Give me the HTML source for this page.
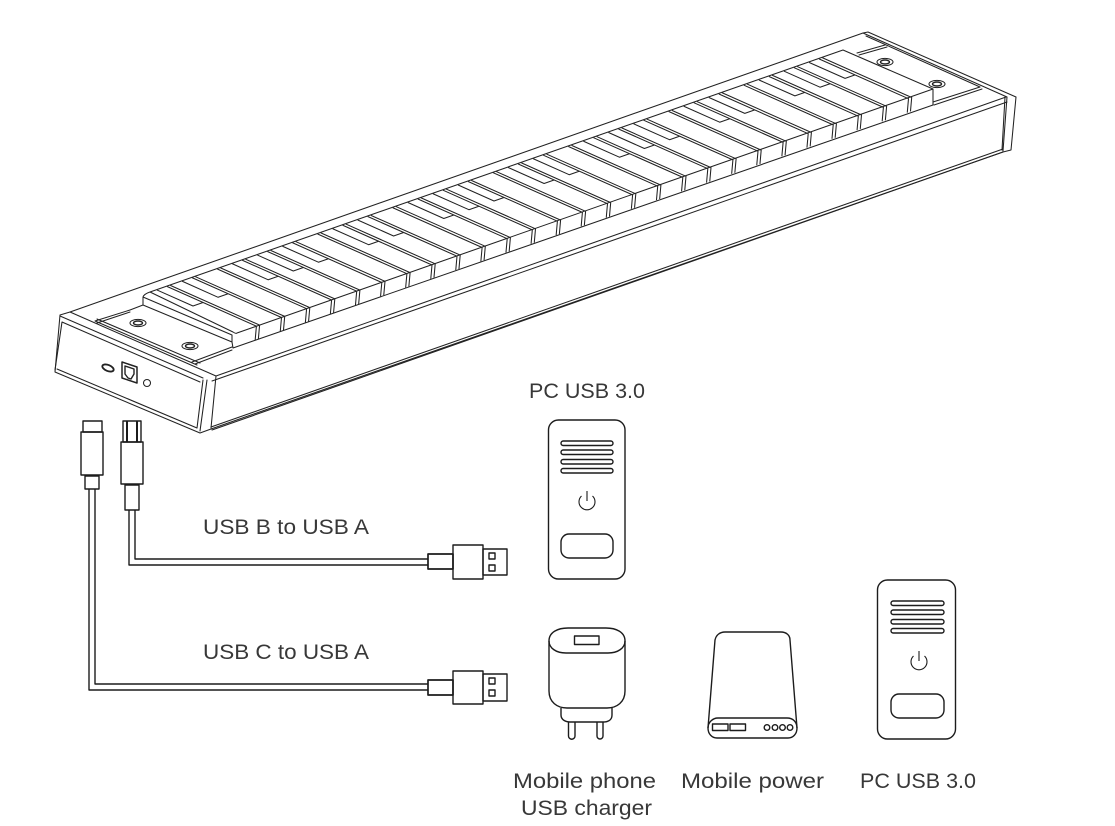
<!DOCTYPE html>
<html lang="en"><head><meta charset="utf-8"><title>Keyboard connections</title>
<style>html,body{margin:0;padding:0;background:#fff}svg{display:block}text{font-family:"Liberation Sans",sans-serif;font-size:21px;fill:#383838}</style>
</head><body>
<svg xmlns="http://www.w3.org/2000/svg" width="1115" height="826" viewBox="0 0 1115 826">
<g id="kb" fill="none" stroke="#222" stroke-width="1.05" stroke-linejoin="round" stroke-linecap="round">
<!-- body -->
<path d="M70 312L863 33L868 32L1016 97L1011 150L1003 152L211 429L200 433L55 372L60 315L70 312"/>
<path d="M60 316L203 378M62 322L200 382M70 312L216 376M57 369L197 428M62 322L55 370"/>
<path d="M203 380L197 428M207 380L200 431M216 376L211 428"/>
<path d="M216 376L1006 97M212 381L1007 102M211 427L1003 149M212 430L1003 152"/>
<path d="M863 33L1007 97M866 36L980 87M1005 97L1002 150M1007 97L1003 151"/>
<path d="M95 321L197 365M97 319L200 363M192 362L232 347M195 364L232 350M130 310L143 305M95 321L130 310M97 323L130 312"/>
<path d="M857 53L885 45M859 55L887 47M933 102L980 87M934 105L982 89"/>
<!-- ports -->
<ellipse cx="108" cy="368" rx="6" ry="3" transform="rotate(22 108 368)" stroke-width="1.8"/>
<path d="M122 362L137 367L137 383L122 378Z" stroke-width="1.5"/>
<path d="M125 366L134 369L134 374L131 379L128 378L125 374Z" stroke-width="1.4"/>
<circle cx="147" cy="383" r="3.5"/>
<!-- screws -->
<ellipse cx="138" cy="323" rx="8" ry="3.6"/><ellipse cx="138" cy="323" rx="4.5" ry="2" stroke-width="1.4"/>
<ellipse cx="190" cy="346" rx="8" ry="3.6"/><ellipse cx="190" cy="346" rx="4.5" ry="2" stroke-width="1.4"/>
<ellipse cx="885" cy="62" rx="8" ry="3.6"/><ellipse cx="885" cy="62" rx="4.5" ry="2" stroke-width="1.4"/>
<ellipse cx="937" cy="84" rx="8" ry="3.6"/><ellipse cx="937" cy="84" rx="4.5" ry="2" stroke-width="1.4"/>
<!-- key block outline -->
<path d="M150 292L843 50L933 89L933 105L233 348L232 342L143 305L143 297Q144 294 150 292L233 332Q236 334 237 333L933 89M143 297L232 335L232 342"/>
</g>
<script>
(function(){
var g=document.getElementById('kb'),d='',black=[0,1,3,4,5,7,8,10,11,12,14,15,17,18,19,21,22,24,25,26];
function P(n){return n[0].toFixed(1)+' '+n[1].toFixed(1)}
for(var k=0;k<=26;k++){
 var x=258+25.08*k,y=333-(x-237)*0.349,vx=-89,vy=-39.6;
 [-1.6,1.6].forEach(function(o){
  var fx=x+o,fy=y-o*0.349;
  d+='M'+P([fx,fy])+'L'+P([fx-1.2,fy+13.5]);
  d+='M'+P([fx,fy])+'L'+P([fx+vx,fy+vy]);
 });
 if(black.indexOf(k)>=0){
  var a=[x-1.6+vx*0.6,y+.6+vy*0.6],b=[a[0]-10,a[1]+3.5];
  d+='M'+P(a)+'L'+P(b)+'L'+P([b[0]+vx*0.4,b[1]+vy*0.4]);
 }
}
var p=document.createElementNS('http://www.w3.org/2000/svg','path');
p.setAttribute('d',d);g.appendChild(p);
})();
</script>
<g fill="none" stroke="#1c1c1c" stroke-width="1.4" stroke-linejoin="round">
<!-- USB-C connector and cable -->
<rect x="83" y="421" width="19" height="11"/><rect x="81" y="432" width="22" height="43"/><rect x="85" y="476" width="14" height="13"/>
<path d="M89 489V690H428M95 489V684H428"/>
<!-- USB-B connector and cable -->
<rect x="123" y="421" width="18" height="21"/><path d="M127 421V442M137 421V442" stroke-width="2"/>
<rect x="121" y="442" width="22" height="42"/><rect x="125" y="485" width="14" height="25"/>
<path d="M129 510V565H428M135 510V559H428"/>
<!-- USB-A plugs -->
<rect x="428" y="554" width="25" height="15" stroke-width="1.7"/><rect x="453" y="545" width="30" height="34"/><rect x="483" y="549" width="24" height="26"/>
<rect x="489" y="553" width="6" height="6"/><rect x="489" y="565" width="6" height="6"/>
<rect x="428" y="680" width="25" height="15" stroke-width="1.7"/><rect x="453" y="671" width="30" height="33"/><rect x="483" y="674" width="24" height="27"/>
<rect x="489" y="678" width="6" height="6"/><rect x="489" y="690" width="6" height="6"/>
<!-- PC tower 1 -->
<rect x="548.500" y="420" width="76.500" height="159" rx="10"/>
<rect x="561" y="441" width="52" height="4.500" rx="2.200"/><rect x="561" y="450" width="52" height="4.500" rx="2.200"/><rect x="561" y="459.500" width="52" height="4.500" rx="2.200"/><rect x="561" y="468.500" width="52" height="4.500" rx="2.200"/>
<path d="M581.500 496A8 8 0 1 0 592.500 496M587 491V501" stroke-width="1.1"/>
<rect x="561" y="534" width="52" height="24" rx="8"/>
<!-- PC tower 2 -->
<rect x="877.500" y="580" width="78" height="159" rx="10"/>
<rect x="891" y="601" width="53" height="4.500" rx="2.200"/><rect x="891" y="610" width="53" height="4.500" rx="2.200"/><rect x="891" y="619.500" width="53" height="4.500" rx="2.200"/><rect x="891" y="628.500" width="53" height="4.500" rx="2.200"/>
<path d="M913.500 656A8 8 0 1 0 924.500 656M919 651V661" stroke-width="1.1"/>
<rect x="891" y="694" width="53" height="24" rx="8"/>
<!-- Charger -->
<path d="M549 641C549 632 558 628 568 628H606C616 628 625 632 625 641V691C625 702 617 708 607 708H567C557 708 549 702 549 691Z"/>
<path d="M549 641C549 648 556 653 566 653H608C618 653 625 648 625 641"/>
<rect x="574.500" y="636" width="24.500" height="8.500"/>
<path d="M561 708V715C561 720 566 722 570 722H603C608 722 612 720 612 715V708"/>
<path d="M568.500 722V736A3 3 0 0 0 575 736V722M597 722V736A3 3 0 0 0 603 736V722"/>
<!-- Power bank -->
<path d="M715 640C716 635 720 632 725 632H781C786 632 790 635 790 640L797 728C797 734 793 738 788 738H717C712 738 708 734 708 728Z"/>
<path d="M708 728C708 722 713 718 718 718H787C793 718 797 722 797 728"/>
<rect x="712.500" y="724" width="15.500" height="6.500"/><rect x="730" y="724" width="15.500" height="6.500"/>
<circle cx="767" cy="727.500" r="2.800"/><circle cx="775" cy="727.500" r="2.800"/><circle cx="782.500" cy="727.500" r="2.800"/><circle cx="790" cy="727.500" r="2.800"/>
</g>
<g>
<text x="529" y="398" textLength="116" lengthAdjust="spacingAndGlyphs">PC USB 3.0</text>
<text x="203" y="534" textLength="166" lengthAdjust="spacingAndGlyphs">USB B to USB A</text>
<text x="203" y="659" textLength="166" lengthAdjust="spacingAndGlyphs">USB C to USB A</text>
<text x="513" y="788" textLength="143" lengthAdjust="spacingAndGlyphs">Mobile phone</text>
<text x="521" y="815" textLength="131" lengthAdjust="spacingAndGlyphs">USB charger</text>
<text x="681" y="788" textLength="143" lengthAdjust="spacingAndGlyphs">Mobile power</text>
<text x="860" y="788" textLength="116" lengthAdjust="spacingAndGlyphs">PC USB 3.0</text>
</g>
</svg>
</body></html>
